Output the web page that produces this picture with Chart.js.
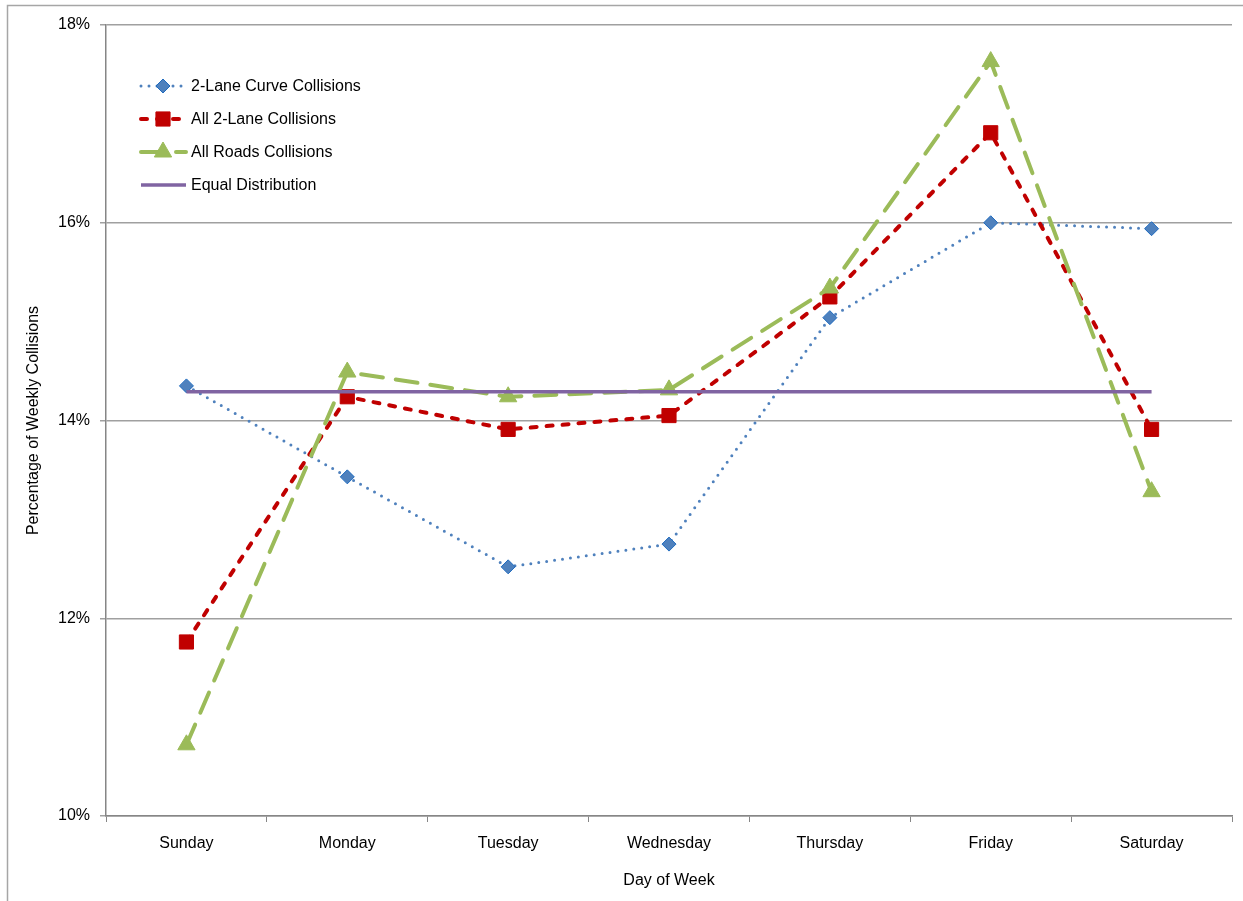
<!DOCTYPE html>
<html lang="en">
<head>
    <meta charset="UTF-8">
    <title>Percentage of Weekly Collisions by Day of Week</title>
    <script src="https://cdn.jsdelivr.net/npm/chart.js"></script>
    <style>
        body {
            margin: 0;
            padding: 0;
            background-color: #fff;
        }

        #chart-container {
            width: 1243px;
            height: 901px;
        }
    </style>
</head>
<body>
    <div id="chart-container">
        <canvas id="dayChart"></canvas>
    </div>

    <script>
        const days = ['Sunday', 'Monday', 'Tuesday', 'Wednesday', 'Thursday', 'Friday', 'Saturday'];
        const curveCollisions = [14.35, 13.43, 12.52, 12.75, 15.04, 16.00, 15.94];
        const twoLaneCollisions = [11.76, 14.24, 13.91, 14.05, 15.25, 16.91, 13.91];
        const allRoadsCollisions = [10.72, 14.49, 14.24, 14.31, 15.34, 17.63, 13.28];
        const equalDistribution = [14.29, 14.29, 14.29, 14.29, 14.29, 14.29, 14.29];
        const seriesNames = ['2-Lane Curve Collisions', 'All 2-Lane Collisions', 'All Roads Collisions', 'Equal Distribution'];
        const yTicks = [10, 12, 14, 16, 18];

        const FONT = '"Liberation Sans", Arial, sans-serif';

        function drawMarker(ctx, style, x, y, r, fill, stroke) {
            ctx.save();
            ctx.fillStyle = fill;
            ctx.strokeStyle = stroke;
            ctx.lineWidth = 1;
            ctx.setLineDash([]);
            ctx.beginPath();
            if (style === 'rectRot') {
                ctx.moveTo(x, y - r);
                ctx.lineTo(x + r, y);
                ctx.lineTo(x, y + r);
                ctx.lineTo(x - r, y);
                ctx.closePath();
            } else if (style === 'rect') {
                const s = r * Math.SQRT1_2;
                ctx.rect(x - s, y - s, 2 * s, 2 * s);
            } else if (style === 'triangle') {
                ctx.moveTo(x, y - r);
                ctx.lineTo(x + r * 0.866, y + r * 0.5);
                ctx.lineTo(x - r * 0.866, y + r * 0.5);
                ctx.closePath();
            }
            ctx.fill();
            ctx.stroke();
            ctx.restore();
        }

        // legend inside plot area, top-left
        const insideLegend = {
            id: 'insideLegend',
            afterDraw(chart) {
                const ctx = chart.ctx;
                chart.data.datasets.forEach((ds, i) => {
                    const y = 86 + i * 33;
                    ctx.save();
                    ctx.strokeStyle = ds.borderColor;
                    ctx.lineWidth = ds.borderWidth;
                    ctx.lineCap = ds.borderCapStyle || 'butt';
                    ctx.setLineDash(ds.borderDash || []);
                    ctx.beginPath();
                    ctx.moveTo(141, y);
                    ctx.lineTo(186, y);
                    ctx.stroke();
                    ctx.restore();
                    if (ds.pointRadius > 0) {
                        drawMarker(ctx, ds.pointStyle, 163, y, ds.pointRadius, ds.pointBackgroundColor, ds.pointBorderColor);
                    }
                    ctx.save();
                    ctx.fillStyle = '#000';
                    ctx.font = '16px ' + FONT;
                    ctx.textBaseline = 'middle';
                    ctx.fillText(ds.label, 191, y + 1);
                    ctx.restore();
                });
            }
        };

        const outerBorder = {
            id: 'outerBorder',
            beforeDraw(chart) {
                const ctx = chart.ctx;
                ctx.save();
                ctx.strokeStyle = '#a6a6a6';
                ctx.lineWidth = 1.5;
                ctx.strokeRect(7.5, 5.5, 1300, 1000);
                ctx.restore();
            }
        };

        const ctx = document.getElementById('dayChart').getContext('2d');
        new Chart(ctx, {
            type: 'line',
            data: {
                labels: days,
                datasets: [{
                    label: seriesNames[0],
                    data: curveCollisions,
                    borderColor: '#4F81BD',
                    borderWidth: 3,
                    borderDash: [0, 8],
                    borderCapStyle: 'round',
                    pointStyle: 'rectRot',
                    pointRadius: 7,
                    pointBackgroundColor: '#4F81BD',
                    pointBorderColor: '#1F6BBF',
                    pointBorderWidth: 1,
                    order: 4
                }, {
                    label: seriesNames[1],
                    data: twoLaneCollisions,
                    borderColor: '#C00000',
                    borderWidth: 4,
                    borderDash: [6, 10],
                    borderCapStyle: 'round',
                    pointStyle: 'rect',
                    pointRadius: 10,
                    pointBackgroundColor: '#C00000',
                    pointBorderColor: '#C00000',
                    pointBorderWidth: 1,
                    order: 3
                }, {
                    label: seriesNames[2],
                    data: allRoadsCollisions,
                    borderColor: '#9BBB59',
                    borderWidth: 4,
                    borderDash: [22, 13],
                    borderCapStyle: 'round',
                    pointStyle: 'triangle',
                    pointRadius: 10,
                    pointBackgroundColor: '#9BBB59',
                    pointBorderColor: '#9BBB59',
                    pointBorderWidth: 1,
                    order: 2
                }, {
                    label: seriesNames[3],
                    data: equalDistribution,
                    borderColor: '#8064A2',
                    borderWidth: 3.5,
                    pointRadius: 0,
                    order: 1
                }]
            },
            options: {
                responsive: true,
                maintainAspectRatio: false,
                animation: false,
                layout: {
                    padding: { left: 0, top: 25, right: 10, bottom: 0 }
                },
                elements: {
                    line: { tension: 0 }
                },
                scales: {
                    x: {
                        offset: true,
                        afterFit: scale => { scale.height = 85; },
                        grid: {
                            offset: true,
                            drawOnChartArea: false,
                            tickLength: 6,
                            color: '#868686'
                        },
                        border: { color: '#868686', width: 1.5 },
                        ticks: {
                            color: '#000',
                            padding: 12,
                            font: { family: FONT, size: 16 }
                        },
                        title: {
                            display: true,
                            text: 'Day of Week',
                            color: '#000',
                            padding: { top: 0, bottom: 11 },
                            font: { family: FONT, size: 16 }
                        }
                    },
                    y: {
                        min: 10,
                        max: 18,
                        afterFit: scale => { scale.width = 106; },
                        afterBuildTicks: scale => {
                            scale.ticks = yTicks.map(v => ({ value: v }));
                        },
                        grid: {
                            color: '#a0a0a0',
                            lineWidth: 1.5,
                            tickLength: 6
                        },
                        border: { color: '#868686', width: 1.5 },
                        ticks: {
                            color: '#000',
                            padding: 10,
                            font: { family: FONT, size: 16 },
                            callback: v => v + '%'
                        },
                        title: {
                            display: true,
                            text: 'Percentage of Weekly Collisions',
                            color: '#000',
                            padding: { top: 24, bottom: 0 },
                            font: { family: FONT, size: 16 }
                        }
                    }
                },
                plugins: {
                    legend: { display: false },
                    tooltip: { enabled: false }
                }
            },
            plugins: [insideLegend, outerBorder]
        });
    </script>
</body>
</html>
